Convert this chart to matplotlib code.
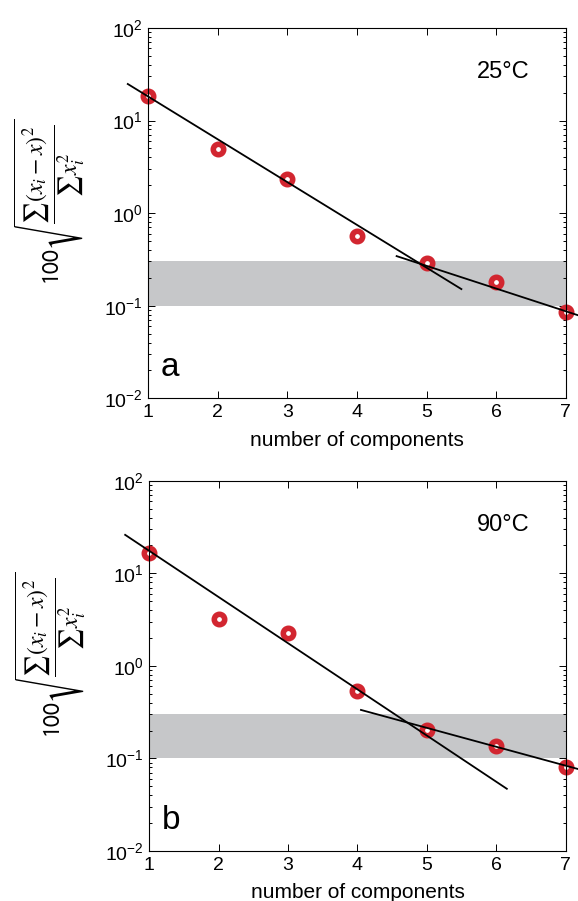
import matplotlib
matplotlib.use("Agg")
import matplotlib.pyplot as plt
from matplotlib.ticker import LogLocator, NullFormatter

plt.rcParams['font.family'] = ['Liberation Sans', 'DejaVu Sans']
plt.rcParams['mathtext.fontset'] = 'stix'

components = [1, 2, 3, 4, 5, 6, 7]

# 25 C panel
err_25 = [18.4, 4.9, 2.33, 0.56, 0.288, 0.18, 0.085]
fit1_25_x = [0.71, 5.5]
fit1_25_y = [24.8, 0.151]
fit2_25_x = [4.57, 7.17]
fit2_25_y = [0.343, 0.079]

# 90 C panel
err_90 = [16.7, 3.2, 2.27, 0.537, 0.204, 0.136, 0.081]
fit1_90_x = [0.655, 6.15]
fit1_90_y = [26.0, 0.047]
fit2_90_x = [4.05, 7.17]
fit2_90_y = [0.334, 0.077]

band = [0.1, 0.3]
temps = ['25°C', '90°C']
letters = ['a', 'b']

ylabel = r'$\mathsf{100}\sqrt{\dfrac{\sum(x_i - x)^2}{\sum x_i^2}}$'


def draw_panel(ax, err, f1x, f1y, f2x, f2y, temp, letter):
  ax.set_yscale('log')
  ax.set_xlim(1, 7)
  ax.set_ylim(1e-2, 1e2)
  ax.axhspan(band[0], band[1], color='#c6c7c9', lw=0, zorder=0)

  ax.plot(f1x, f1y, color='black', lw=1.3, clip_on=False, zorder=3)
  ax.plot(f2x, f2y, color='black', lw=1.3, clip_on=False, zorder=3)
  ax.plot(components, err, 'o', ms=7.5, mew=4, mfc='white', mec='#d22630',
          clip_on=False, zorder=2)

  ax.set_xticks(components)
  ax.yaxis.set_major_locator(LogLocator(base=10, numticks=10))
  ax.yaxis.set_minor_locator(LogLocator(base=10, subs=range(2, 10), numticks=10))
  ax.yaxis.set_minor_formatter(NullFormatter())
  ax.tick_params(which='both', direction='in', top=True, right=True,
                 labelsize=14, width=0.7)
  ax.tick_params(which='major', length=5, pad=4)
  ax.tick_params(which='minor', length=2.5)
  for s in ax.spines.values():
    s.set_linewidth(0.8)

  ax.set_xlabel('number of components', fontsize=15, labelpad=7)
  ax.text(0.85, 0.88, temp, transform=ax.transAxes, fontsize=17,
          ha='center', va='center')
  ax.text(0.03, 0.04, letter, transform=ax.transAxes, fontsize=24,
          ha='left', va='bottom')
  ax.text(-0.235, 0.53, ylabel, transform=ax.transAxes, fontsize=17,
          rotation=90, ha='center', va='center')


fig = plt.figure(figsize=(5.78, 9.01), dpi=100)
ax1 = fig.add_axes([0.256, 0.558, 0.723, 0.411])
ax2 = fig.add_axes([0.258, 0.0555, 0.721, 0.411])

draw_panel(ax1, err_25, fit1_25_x, fit1_25_y, fit2_25_x, fit2_25_y,
           temps[0], letters[0])
draw_panel(ax2, err_90, fit1_90_x, fit1_90_y, fit2_90_x, fit2_90_y,
           temps[1], letters[1])

fig.savefig('out.png', dpi=100)
